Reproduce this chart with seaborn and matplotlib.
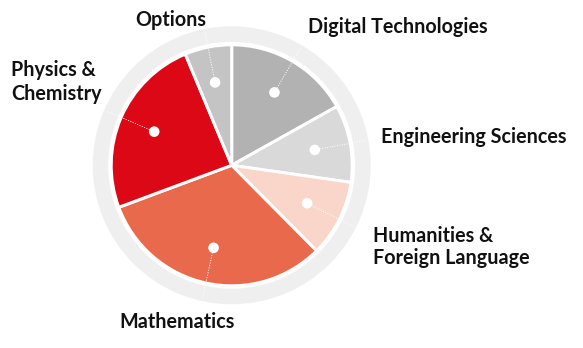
import matplotlib
matplotlib.use("Agg")
import matplotlib.pyplot as plt
import seaborn as sns
import numpy as np
from matplotlib.patches import Wedge, Circle

# ---- data ----
categories = ["Digital Technologies", "Engineering Sciences",
              "Humanities & Foreign Language", "Mathematics",
              "Physics & Chemistry", "Options"]
shares = [16.9, 10.4, 10.3, 31.8, 24.4, 6.3]
colors = ["#B2B2B2", "#D9D9D9", "#F9D6C9", "#E8694B", "#DC0816", "#C4C4C4"]
label_texts = ["Digital Technologies", "Engineering Sciences",
               "Humanities &\nForeign Language", "Mathematics",
               "Physics &\nChemistry", "Options"]

# label layout (left x, first-line baseline y in pixels from top, line pitch px)
label_pos = [(308, 33, 0), (381, 143, 0), (373, 246, 18),
             (119, 328, 0), (11, 80, 20.5), (135, 26, 0)]

sns.set_theme(style="white")
plt.rcParams['font.family'] = ['Lato', 'DejaVu Sans']

W, H = 583, 348
fig = plt.figure(figsize=(W / 100, H / 100), dpi=100)
ax = fig.add_axes([0, 0, 1, 1])

cx, cy = 231.7, H - 165.3
R = 120.5
px = 72 / 100.0
FS = 14.2

# outer ring
ax.add_patch(Wedge((cx, cy), 139, 0, 360, width=15.5,
                   facecolor="#EFEFEF", edgecolor="none", zorder=0))

wedges, _ = ax.pie(shares, colors=colors, startangle=90, counterclock=False,
                   radius=R, center=(cx, cy),
                   wedgeprops=dict(edgecolor="white", linewidth=3 * px))
for w in wedges:
    w.set_zorder(1)

r_dot = 84.5
for w in wedges:
    mid = np.deg2rad((w.theta1 + w.theta2) / 2)
    x0, y0 = cx + r_dot * np.cos(mid), cy + r_dot * np.sin(mid)
    x1, y1 = cx + 137 * np.cos(mid), cy + 137 * np.sin(mid)
    ax.plot([x0, x1], [y0, y1], color="white", lw=1.0 * px,
            linestyle=(0, (1, 1.5)), zorder=2, solid_capstyle="butt")
    ax.add_patch(Circle((x0, y0), 5.3, facecolor="white", edgecolor="none", zorder=3))

fig.canvas.draw()
renderer = fig.canvas.get_renderer()
for t, (lx, ly, pitch) in zip(label_texts, label_pos):
    n = t.count("\n") + 1
    txt = ax.text(lx, H - ly, t, ha="left", va="baseline", fontsize=FS,
                  fontweight="bold", color="#111111", linespacing=1.0)
    if n > 1:
        # measure natural pitch and rescale line spacing to requested pitch
        one = ax.text(0, 0, "lp", fontsize=FS, fontweight="bold")
        bb = one.get_window_extent(renderer)
        from matplotlib.text import Text
        w_, h_, d_ = renderer.get_text_width_height_descent("lp", one.get_fontproperties(), ismath=False)
        one.remove()
        ls = pitch / (h_ - d_)
        txt.set_linespacing(ls)
        # va='baseline' on multiline aligns the last line; shift to first-line baseline
        txt.set_y(H - ly - pitch * (n - 1))

ax.set_xlim(0, W)
ax.set_ylim(0, H)
ax.set_aspect("equal")
ax.axis("off")
fig.savefig("out.png", dpi=100, facecolor="white")
